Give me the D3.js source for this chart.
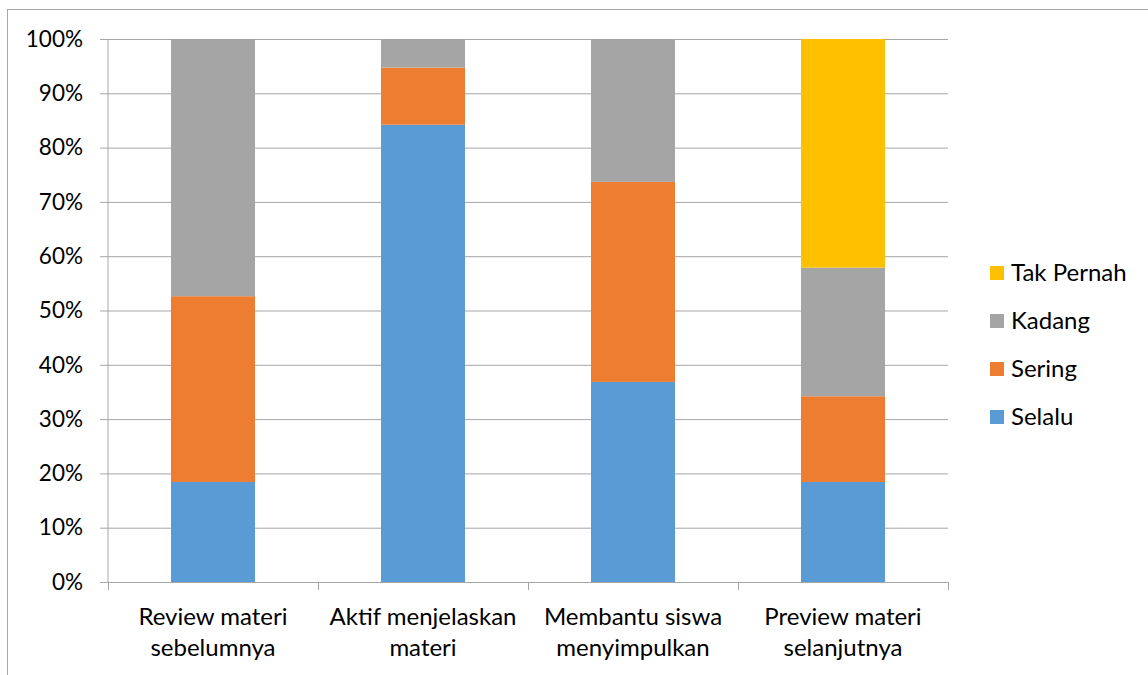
<!DOCTYPE html>
<html>
<head>
<meta charset="utf-8">
<script src="https://cdn.jsdelivr.net/npm/d3@7"></script>
<style>
  body { margin: 0; background: #fff; }
  text { font-family: Lato, "Open Sans", sans-serif; fill: #000; }
</style>
</head>
<body>
<div id="chart"></div>
<script>
// ============================================
// DATA (jumlah responden per kategori, n = 38)
// ============================================

const categories = [
  ['Review materi', 'sebelumnya'],
  ['Aktif menjelaskan', 'materi'],
  ['Membantu siswa', 'menyimpulkan'],
  ['Preview materi', 'selanjutnya']
];
const seriesNames = ['Selalu', 'Sering', 'Kadang', 'Tak Pernah'];
const selalu    = [7, 32, 14, 7];
const sering    = [13, 4, 14, 6];
const kadang    = [18, 2, 10, 9];
const takPernah = [0, 0, 0, 16];
const colors = ['#5B9BD5', '#ED7D31', '#A5A5A5', '#FFC000'];
const yTicks = [0, 0.1, 0.2, 0.3, 0.4, 0.5, 0.6, 0.7, 0.8, 0.9, 1];

const rows = categories.map((c, i) => ({
  key: i,
  Selalu: selalu[i],
  Sering: sering[i],
  Kadang: kadang[i],
  'Tak Pernah': takPernah[i]
}));

// ============================================
// DIMENSIONS & SCALES
// ============================================

const W = 1148, H = 675;
const plot = { left: 108, right: 948, top: 39, bottom: 582 };

const x = d3.scaleBand()
  .domain(rows.map(d => d.key))
  .range([plot.left, plot.right])
  .paddingInner(0.6)
  .paddingOuter(0.3);

const y = d3.scaleLinear()
  .domain([0, 1])
  .range([plot.bottom, plot.top]);

const stacked = d3.stack()
  .keys(seriesNames)
  .offset(d3.stackOffsetExpand)(rows);

// ============================================
// SVG SETUP
// ============================================

const svg = d3.select('#chart')
  .append('svg')
  .attr('width', W)
  .attr('height', H);

// chart frame
svg.append('rect')
  .attr('x', 7.5).attr('y', 9.5)
  .attr('width', W + 10).attr('height', H + 10)
  .attr('fill', 'none')
  .attr('stroke', '#a6a6a6');

// gridlines + y labels
const yAxis = svg.append('g')
  .attr('transform', `translate(${plot.left},0)`)
  .call(d3.axisLeft(y)
    .tickValues(yTicks)
    .tickSize(-(plot.right - plot.left))
    .tickPadding(25)
    .tickFormat(d3.format('.0%')));
yAxis.select('.domain').remove();
yAxis.selectAll('.tick line')
  .attr('x1', -8)
  .attr('stroke', '#a6a6a6');
yAxis.selectAll('.tick text')
  .style('font-size', '22.5px');

// y axis line
svg.append('line')
  .attr('x1', plot.left).attr('x2', plot.left)
  .attr('y1', plot.top).attr('y2', plot.bottom)
  .attr('stroke', '#a6a6a6');

// ============================================
// BARS
// ============================================

svg.append('g')
  .selectAll('g')
  .data(stacked)
  .join('g')
  .attr('fill', (d, i) => colors[i])
  .selectAll('rect')
  .data(d => d)
  .join('rect')
  .attr('x', d => x(d.data.key))
  .attr('width', x.bandwidth())
  .attr('y', d => y(d[1]))
  .attr('height', d => y(d[0]) - y(d[1]));

// ============================================
// X AXIS
// ============================================

const step = x.step();
const boundaries = d3.range(rows.length + 1).map(i => plot.left + i * step);

svg.append('line')
  .attr('x1', plot.left).attr('x2', plot.right)
  .attr('y1', plot.bottom + 0.5).attr('y2', plot.bottom + 0.5)
  .attr('stroke', '#a6a6a6');

svg.append('g')
  .selectAll('line')
  .data(boundaries)
  .join('line')
  .attr('x1', d => d + 0.5).attr('x2', d => d + 0.5)
  .attr('y1', plot.bottom).attr('y2', plot.bottom + 8)
  .attr('stroke', '#a6a6a6');

const xLabels = svg.append('g')
  .selectAll('text')
  .data(rows)
  .join('text')
  .attr('text-anchor', 'middle')
  .style('font-size', '24px');

xLabels.selectAll('tspan')
  .data(d => categories[d.key].map(t => ({ t, key: d.key })))
  .join('tspan')
  .attr('x', d => x(d.key) + x.bandwidth() / 2)
  .attr('y', (d, i) => 625 + i * 31)
  .text(d => d.t);

// ============================================
// LEGEND
// ============================================

const legendItems = seriesNames.map((name, i) => ({ name, color: colors[i] })).reverse();

const legend = svg.append('g')
  .selectAll('g')
  .data(legendItems)
  .join('g')
  .attr('transform', (d, i) => `translate(990,${273 + i * 48})`);

legend.append('rect')
  .attr('x', 0).attr('y', -7)
  .attr('width', 14).attr('height', 14)
  .attr('fill', d => d.color);

legend.append('text')
  .attr('x', 21)
  .attr('dy', '0.35em')
  .style('font-size', '24px')
  .text(d => d.name);
</script>
</body>
</html>
